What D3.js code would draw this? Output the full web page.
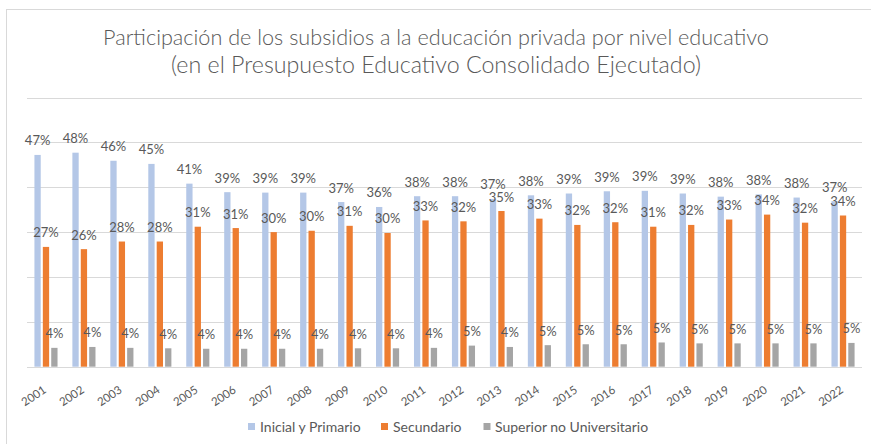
<!DOCTYPE html>
<html>
<head>
<meta charset="utf-8">
<script src="https://cdn.jsdelivr.net/npm/d3@7"></script>
<style>
html,body{margin:0;padding:0;background:#fff;}
svg{display:block;}
text{font-family:Lato,"Open Sans",sans-serif;fill:#595959;}
</style>
</head>
<body>
<svg id="chart" width="871" height="444"></svg>
<script>
const years = ["2001","2002","2003","2004","2005","2006","2007","2008","2009","2010","2011","2012","2013","2014","2015","2016","2017","2018","2019","2020","2021","2022"];
const seriesNames = ["Inicial y Primario","Secundario","Superior no Universitario"];
const inicialPrimario = [47.2,47.7,45.9,45.2,40.8,38.9,38.8,38.8,36.7,35.6,38.0,38.0,37.4,38.2,38.6,39.1,39.2,38.6,37.9,38.4,37.7,36.9];
const secundario = [26.7,26.2,27.9,27.9,31.2,30.9,30.0,30.3,31.4,29.8,32.6,32.4,34.7,33.0,31.6,32.2,31.2,31.6,32.8,33.9,32.1,33.7];
const superiorNoUniv = [4.2,4.4,4.2,4.1,4.0,4.0,4.0,4.0,4.1,4.1,4.2,4.7,4.4,4.8,5.0,5.0,5.4,5.2,5.2,5.2,5.2,5.3];
const yTicks = [0,10,20,30,40,50,60];
const colors = ["#B4C7E7","#ED7D31","#A5A5A5"];
const titleLines = ["Participación de los subsidios a la educación privada por nivel educativo","(en el Presupuesto Educativo Consolidado Ejecutado)"];

const seriesValues = [inicialPrimario, secundario, superiorNoUniv];
const svg = d3.select("#chart");

// chart border
svg.append("rect").attr("x",6.5).attr("y",9.5).attr("width",900).attr("height",500)
  .attr("fill","#fff").attr("stroke","#D9D9D9").attr("stroke-width",1);

// title
const titleTargets = [{y:44.5, w:666},{y:72.5, w:530}];
titleLines.forEach((t,i)=>{
  const el = svg.append("text").attr("x",436).attr("y",titleTargets[i].y)
    .attr("text-anchor","middle").style("font-size","20px").style("font-weight","300").text(t);
  const len = el.node().getComputedTextLength();
  el.style("font-size",(20*titleTargets[i].w/len).toFixed(2)+"px");
});

const x0 = d3.scaleBand().domain(years).range([27,862]).paddingInner(0).paddingOuter(0);
const x1 = d3.scaleBand().domain(seriesNames).range([-12.6,12.6]).paddingInner(0.25).paddingOuter(0.125);
const y = d3.scaleLinear().domain([0,60]).range([366.7,97.5]);

// gridlines
svg.append("g").selectAll("line").data(yTicks).join("line")
  .attr("x1",27).attr("x2",862)
  .attr("y1",d=>Math.round(y(d))+0.5).attr("y2",d=>Math.round(y(d))+0.5)
  .attr("stroke","#D9D9D9").attr("stroke-width",1);

// bars
const groups = svg.append("g").selectAll("g").data(years).join("g")
  .attr("transform",d=>`translate(${x0(d)+x0.bandwidth()/2},0)`);

seriesNames.forEach((s,si)=>{
  groups.append("rect")
    .attr("x",x1(s)).attr("width",x1.bandwidth())
    .attr("y",(d,i)=>y(seriesValues[si][i]))
    .attr("height",(d,i)=>y(0)-y(seriesValues[si][i]))
    .attr("fill",colors[si]);
});
seriesNames.forEach((s,si)=>{
  groups.append("text")
    .attr("x",x1(s)+x1.bandwidth()/2)
    .attr("y",(d,i)=>y(seriesValues[si][i])-9.5)
    .attr("text-anchor","middle").style("font-size","13px")
    .text((d,i)=>Math.round(seriesValues[si][i])+"%");
});

// x axis labels
const xAxis = d3.axisBottom(x0).tickSize(0).tickPadding(0);
const gx = svg.append("g").attr("transform","translate(0,366.7)").call(xAxis);
gx.select(".domain").remove();
gx.selectAll("text")
  .attr("text-anchor","end").attr("dy",null).attr("y",0).attr("x",0)
  .attr("transform","translate(1,25) rotate(-34)")
  .style("font-size","11.5px").style("font-family","Lato,'Open Sans',sans-serif").attr("fill","#595959");

// legend
const legendItems = [{x:248,tx:260},{x:381,tx:393},{x:483.5,tx:495}];
const lg = svg.append("g");
seriesNames.forEach((s,i)=>{
  lg.append("rect").attr("x",legendItems[i].x).attr("y",423).attr("width",7).attr("height",7).attr("fill",colors[i]);
  lg.append("text").attr("x",legendItems[i].tx).attr("y",431.5).style("font-size","14px").text(s);
});
</script>
</body>
</html>
